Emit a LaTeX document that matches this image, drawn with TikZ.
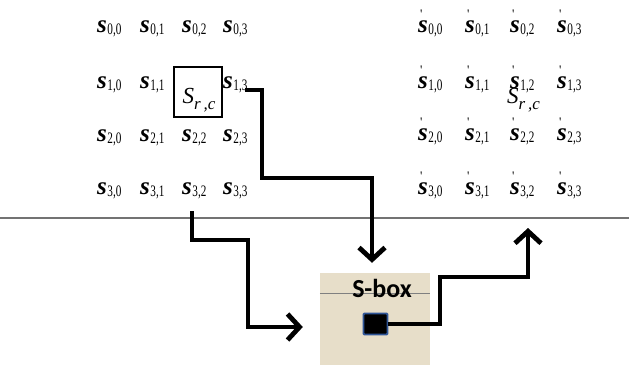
\documentclass[tikz,border=0pt]{standalone}
\usepackage{fontspec}
\setmainfont{Liberation Serif}
\newfontfamily\boxfont{Carlito}
\usetikzlibrary{arrows.meta}
\newcommand{\sv}[2]{{\fontsize{25}{26}\selectfont\bfseries\itshape s}\kern0.5pt\raisebox{-2.5pt}{\scalebox{0.7}[1]{\fontsize{16}{16}\selectfont #1,#2}}}
\newcommand{\svp}[2]{\makebox[0pt][l]{\kern2pt\raisebox{14pt}{\fontsize{13}{13}\selectfont\textquotesingle}}\sv{#1}{#2}}
\newcommand{\Src}{{\fontsize{23}{23}\selectfont\itshape S}\raisebox{-6pt}{\fontsize{17}{17}\selectfont\itshape r\,,c}}
\tikzset{
  lbl/.style={inner sep=0pt, anchor=base west},
  conn/.style={line width=4.8pt, line join=miter, -{Straight Barb[length=12pt,width=26pt]}},
  thinconn/.style={line width=4pt, line join=miter}
}
\begin{document}
\begin{tikzpicture}[x=1pt,y=-1pt]
\useasboundingbox (0,0) rectangle (629,367);
% left grid
\foreach \r/\y in {0/32,1/88,2/141,3/194}{
  \foreach \c/\x in {0/97,1/140,2/182,3/223}{
    \ifnum\r=1 \ifnum\c=2 \else
      \node[lbl] (l\r\c) at (\x,\y) {\sv{\r}{\c}};
    \fi\else
      \node[lbl] (l\r\c) at (\x,\y) {\sv{\r}{\c}};
    \fi
  }
}
% right grid
\foreach \r/\y in {0/32,1/88,2/140,3/194}{
  \foreach \c/\x in {0/418,1/465,2/510,3/557}{
    \node[lbl] (r\r\c) at (\x,\y) {\svp{\r}{\c}};
  }
}
% S_{r,c} box left
\node[draw, line width=1.3pt, minimum width=48pt, minimum height=50pt, inner sep=0pt] (srcbox) at (198,92) {};
\node[lbl] (srcl) at (182.5,103) {\Src};
\node[lbl] (srcr) at (507,103) {\Src};
% horizontal line
\coordinate (hl0) at (0,218);
\coordinate (hl1) at (629,218);
\draw[black!55, line width=1.3pt] (hl0) -- (hl1);
% S-box
\node[fill={rgb,255:red,231;green,222;blue,201}, minimum width=110pt, minimum height=92pt, inner sep=0pt] (sbox) at (375,319) {};
\draw[gray, line width=0.6pt] (sbox.west |- 0,293) -- (sbox.east |- 0,293);
\node[inner sep=0pt, font=\boxfont\bfseries\fontsize{26}{26}\selectfont] (sboxlbl) at (382,288) {S-box};
\node[fill=black, draw={rgb,255:red,47;green,85;blue,151}, line width=1.8pt, rounded corners=1pt, minimum width=24pt, minimum height=21pt, inner sep=0pt] (sq) at (375.5,324) {};
% connectors
\coordinate (c1s) at (245,90);
\draw[conn] (c1s) -- (262,90) -- (262,178) -- (372,178) -- ([yshift=10pt]sbox.north -| 372,0);
\coordinate (c2s) at (192,211);
\draw[conn] (c2s) -- (192,240) -- (248,240) -- (248,327) -- ([xshift=-17pt]sbox.west |- 0,327);
\coordinate (c3e) at (528,228);
\draw[thinconn] (sq.east) -- (440,324) -- (440,277) -- (528,277);
\draw[conn] (528,279.2) -- (c3e);
\end{tikzpicture}
\end{document}
